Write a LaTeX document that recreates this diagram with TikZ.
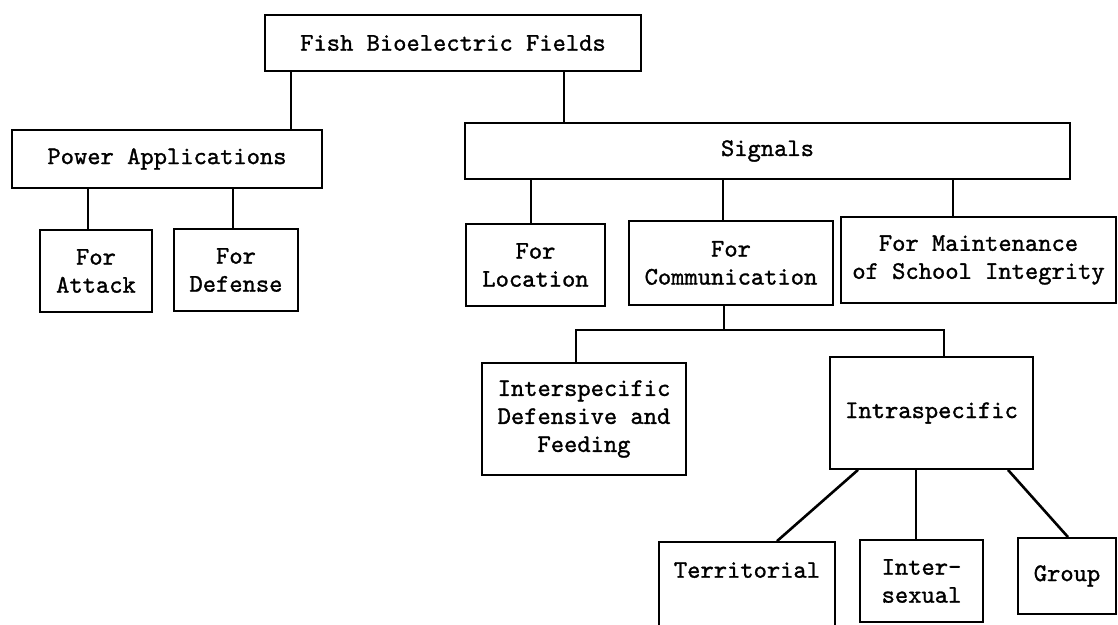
\documentclass[tikz,border=0pt]{standalone}
\usepackage{fontspec}
\newfontfamily\twfam{lmmono10-regular.otf}[FakeBold=1.2]
\newcommand\twfont{\twfam\fontsize{25.3}{28}\selectfont}
\begin{document}
\begin{tikzpicture}[x=1pt,y=-1pt,
  box/.style={draw, line width=1.8pt, inner sep=0pt, align=center,
    font=\twfont},
  conn/.style={line width=1.8pt},
  diag/.style={line width=2.6pt}]
\useasboundingbox[fill=white] (0,0) rectangle (1118,624);

\node[box, minimum width=376pt, minimum height=56pt] (fish) at (453,43) {Fish Bioelectric Fields};
\node[box, minimum width=310pt, minimum height=58pt] (power) at (167,159) {Power Applications};
\node[box, minimum width=605pt, minimum height=56pt] (signals) at (767.5,151) {Signals};

\node[box, minimum width=112pt, minimum height=82pt] (attack) at (96,271) {For\\Attack};
\node[box, minimum width=124pt, minimum height=82pt] (defense) at (236,270) {For\\Defense};

\node[box, minimum width=139pt, minimum height=82pt] (location) at (535.5,265) {For\\Location};
\node[box, minimum width=204pt, minimum height=84pt] (comm) at (731,263) {For\\Communication};
\node[box, minimum width=275pt, minimum height=86pt] (maint) at (978.5,260) {For Maintenance\\of School Integrity};

\node[box, minimum width=204pt, minimum height=112pt] (inter) at (584,419) {Interspecific\\Defensive and\\Feeding};
\node[box, minimum width=203pt, minimum height=112pt] (intra) at (931.5,413) {Intraspecific};

\node[box, minimum width=176pt, minimum height=84pt] (terr) at (747,584) {Territorial\\\mbox{}};
\node[box, minimum width=123pt, minimum height=82pt] (intsex) at (921.5,581) {Inter-\\sexual};
\node[box, minimum width=98pt, minimum height=76pt] (group) at (1067,576) {Group};

\coordinate (bus) at (724,330);

\draw[conn] ([xshift=-162pt]fish.south) -- ([xshift=124pt]power.north);
\draw[conn] ([xshift=111pt]fish.south) -- ([xshift=-203.5pt]signals.north);
\draw[conn] ([xshift=-79pt]power.south) -- ([xshift=-8pt]attack.north);
\draw[conn] ([xshift=66pt]power.south) -- ([xshift=-3pt]defense.north);
\draw[conn] ([xshift=-236.5pt]signals.south) -- ([xshift=-4.5pt]location.north);
\draw[conn] ([xshift=-44.5pt]signals.south) -- ([xshift=-8pt]comm.north);
\draw[conn] ([xshift=185.5pt]signals.south) -- ([xshift=-25.5pt]maint.north);
\draw[conn] ([xshift=-7pt]comm.south) -- (bus);
\draw[conn] ([xshift=-8pt]inter.north) |- (bus) -| ([xshift=12.5pt]intra.north);
\draw[diag] ([xshift=-73.5pt]intra.south) -- ([xshift=30pt]terr.north);
\draw[conn] ([xshift=-15.5pt]intra.south) -- ([xshift=-5.5pt]intsex.north);
\draw[diag] ([xshift=76.5pt]intra.south) -- ([xshift=1pt]group.north);
\end{tikzpicture}
\end{document}
